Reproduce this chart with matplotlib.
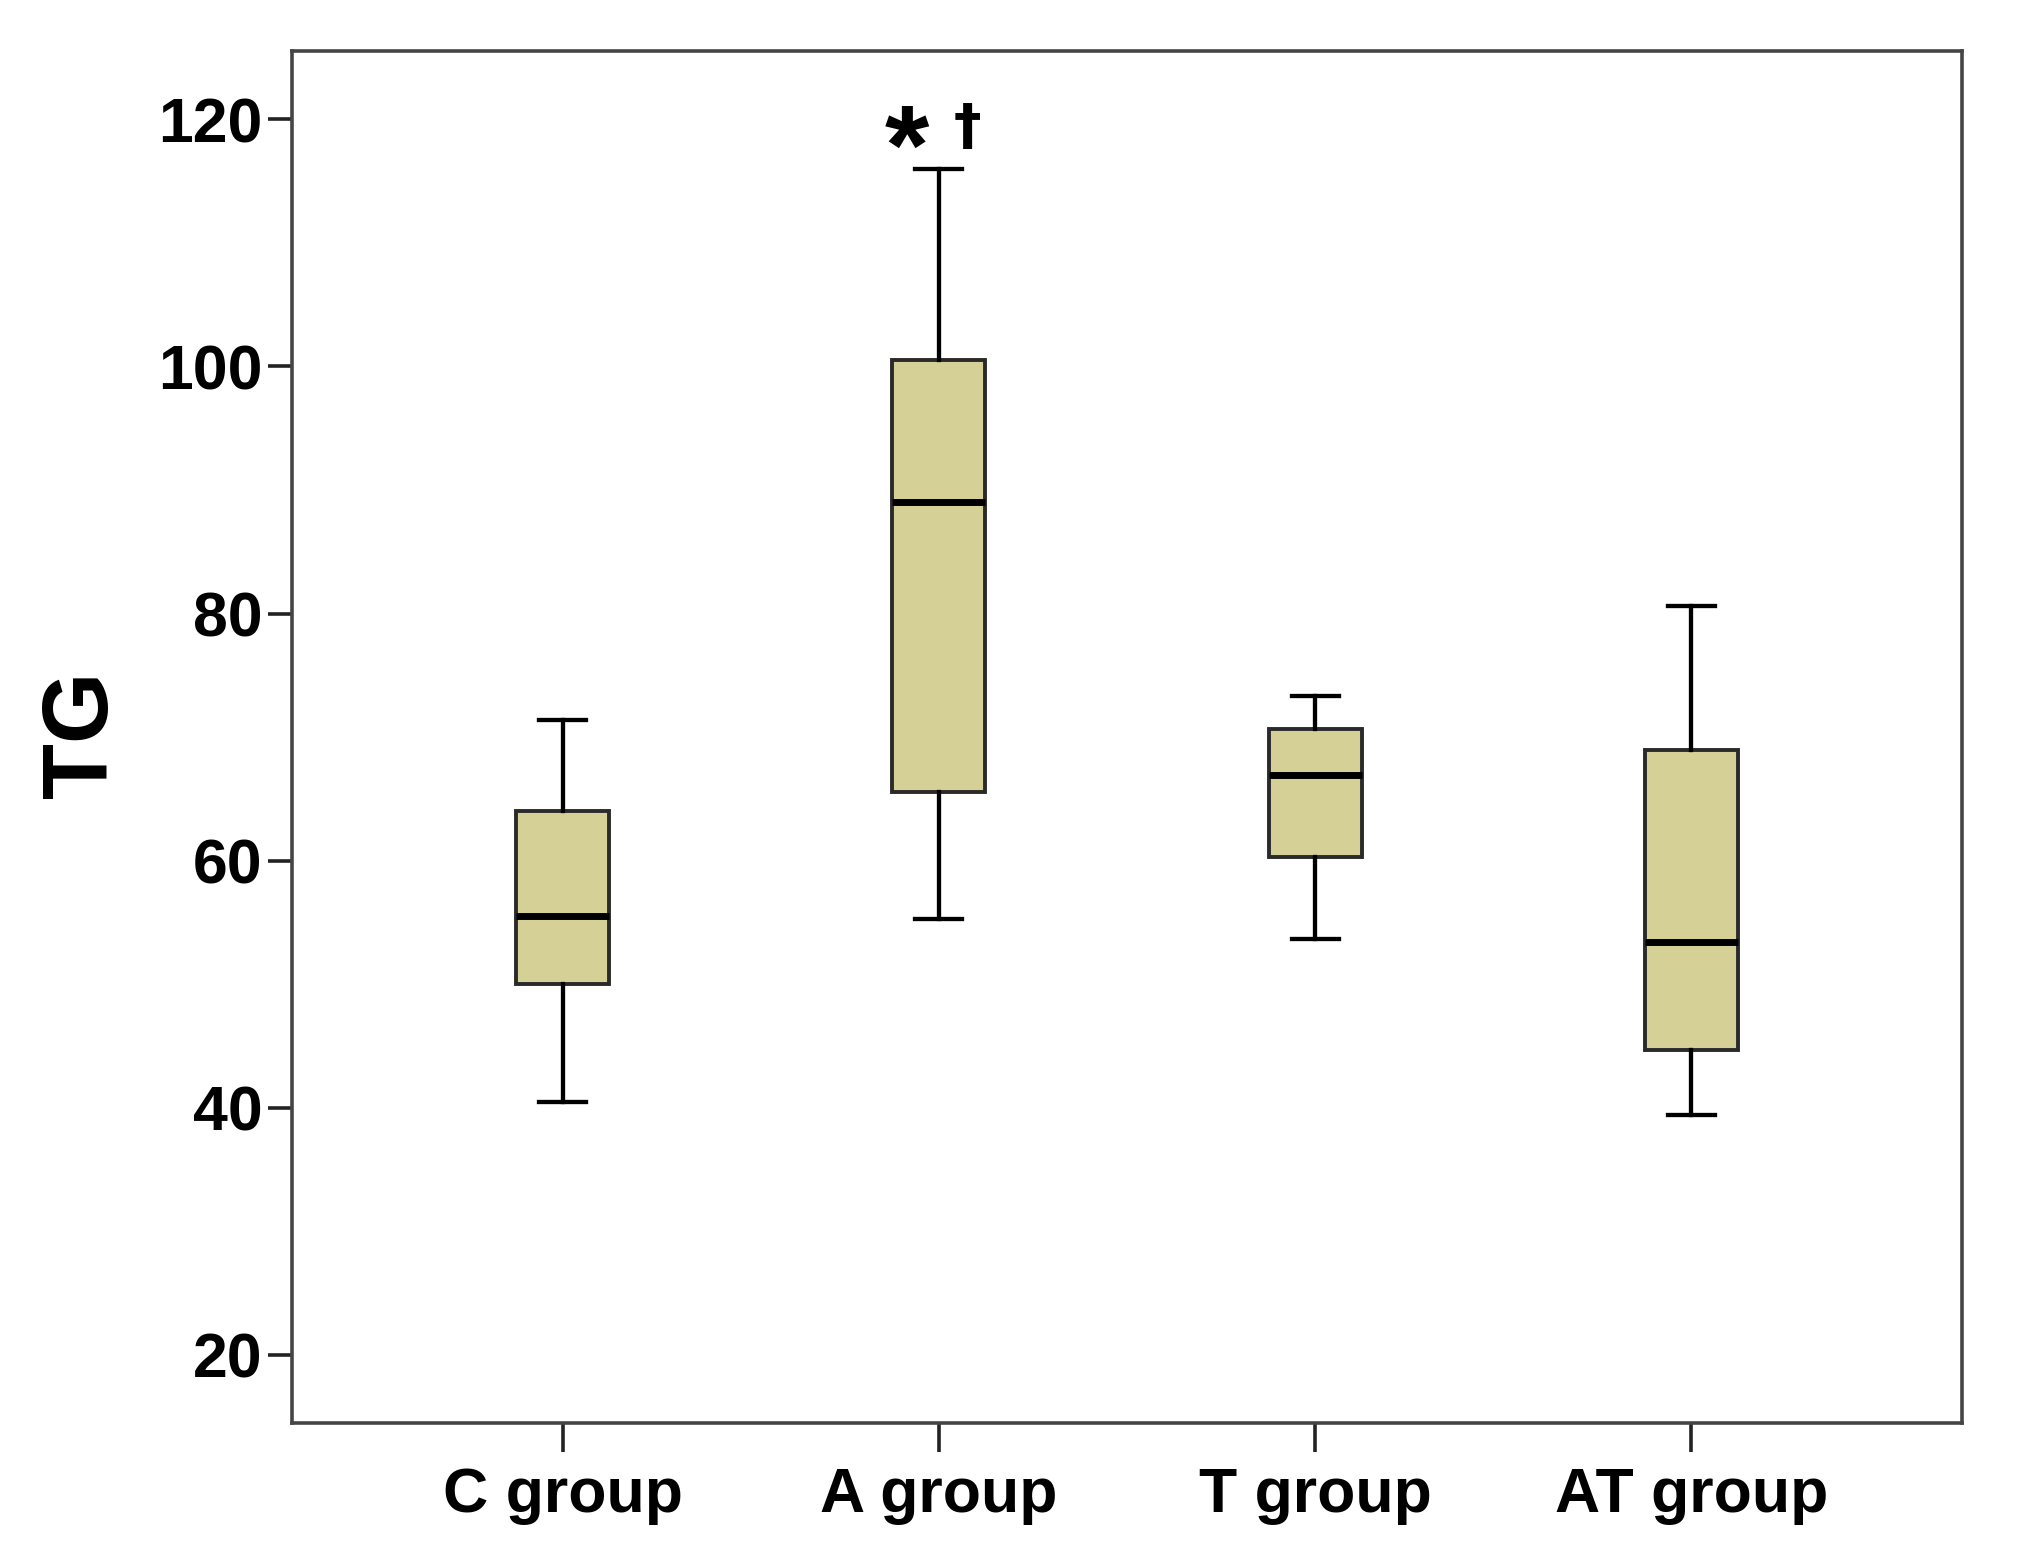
import matplotlib
matplotlib.use("Agg")
import matplotlib.pyplot as plt

plt.rcParams['font.family'] = ['Liberation Sans', 'DejaVu Sans']
plt.rcParams['font.weight'] = 'bold'

groups = ["C group", "A group", "T group", "AT group"]
whisker_low = [40.5, 55.3, 53.7, 39.4]
q1 = [50.0, 65.6, 60.3, 44.7]
medians = [55.5, 89.0, 66.9, 53.4]
q3 = [64.0, 100.5, 70.7, 69.0]
whisker_high = [71.4, 116.0, 73.3, 80.6]
y_ticks = [20, 40, 60, 80, 100, 120]

stats = []
for g, lo, a, m, b, hi in zip(groups, whisker_low, q1, medians, q3, whisker_high):
    stats.append({"label": g, "whislo": lo, "q1": a, "med": m, "q3": b,
                  "whishi": hi, "fliers": []})

fig = plt.figure(figsize=(20.19, 15.58), dpi=100)
ax = fig.add_axes([0.1446, 0.0867, 0.9718 - 0.1446, 0.967 - 0.0867])

positions = list(range(1, len(groups) + 1))
ax.bxp(stats, positions=positions, widths=0.247, patch_artist=True,
       showfliers=False,
       boxprops=dict(facecolor="#D4D096", edgecolor="#2a2a2a", linewidth=2.8),
       medianprops=dict(color="black", linewidth=5.0, solid_capstyle="butt"),
       whiskerprops=dict(color="black", linewidth=3.1),
       capprops=dict(color="black", linewidth=3.1),
       capwidths=0.125)

ax.set_xlim(0.28, 4.72)
ax.set_ylim(14.5, 125.5)
ax.set_yticks(y_ticks)
ax.set_xticks(positions)
ax.set_xticklabels(groups)

for s in ax.spines.values():
    s.set_color("#454545")
    s.set_linewidth(2.6)

ax.tick_params(axis="y", length=17, width=2.6, color="#222222", pad=4,
               labelsize=45)
ax.tick_params(axis="x", length=21, width=2.6, color="#222222", pad=10,
               labelsize=45)
for lab in ax.get_xticklabels() + ax.get_yticklabels():
    lab.set_fontweight("bold")

ax.set_ylabel("TG", fontsize=66, fontweight="bold")
ax.yaxis.set_label_coords(-0.0995, 0.502)

# significance marks above A group
ax.text(1.914, 117.15, "*", fontsize=82, fontweight="bold",
        ha="center", va="center")
ax.text(2.076, 119.3, "\u2020", fontsize=40, fontweight="bold",
        family="DejaVu Sans", ha="center", va="center")

fig.savefig("out.png", dpi=100)
